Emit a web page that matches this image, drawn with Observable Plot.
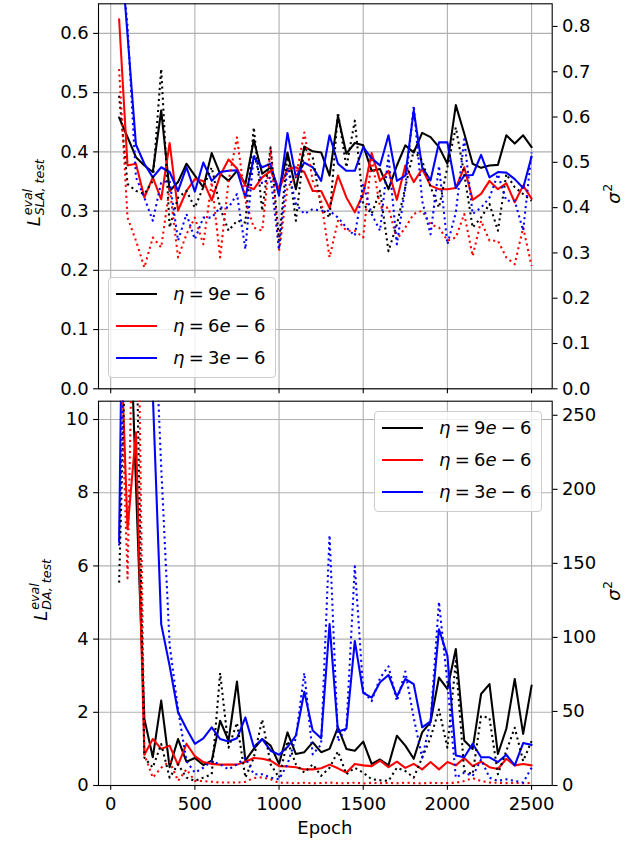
<!DOCTYPE html>
<html>
<head>
<meta charset="utf-8">
<script src="https://cdn.jsdelivr.net/npm/d3@7"></script>
<script src="https://cdn.jsdelivr.net/npm/@observablehq/plot@0.6"></script>
<style>
  body { margin: 0; background: white; }
  #root { position: relative; width: 640px; height: 841px; background: white; overflow: hidden; font-family: "DejaVu Sans", sans-serif; }
  #root svg { position: absolute; left: 0; top: 0; }
  .legend { position: absolute; box-sizing: border-box; width: 168px; height: 101px; border: 1px solid #cccccc; border-radius: 4px; background: rgba(255,255,255,0.8); }
  .legend .swatch { position: absolute; left: 7px; width: 41px; height: 2px; }
  .legend .lab { position: absolute; left: 64px; font-size: 18px; line-height: 22px; white-space: nowrap; word-spacing: -1.5px; color: black; }
</style>
</head>
<body>
<div id="root"></div>
<script>
const epochs = [50,100,150,200,250,300,350,400,450,500,550,600,650,700,750,800,850,900,950,1000,1050,1100,1150,1200,1250,1300,1350,1400,1450,1500,1550,1600,1650,1700,1750,1800,1850,1900,1950,2000,2050,2100,2150,2200,2250,2300,2350,2400,2450,2500];
const xTicks = [0,500,1000,1500,2000,2500];
const slaTicks = [0,0.1,0.2,0.3,0.4,0.5,0.6];
const slaVarTicks = [0,0.1,0.2,0.3,0.4,0.5,0.6,0.7,0.8];
const daTicks = [0,2,4,6,8,10];
const daVarTicks = [0,50,100,150,200,250];
const etaValues = ["9","6","3"];
const colors = ["black","red","blue"];

// top panel: SLA loss (left axis, solid) and sigma^2 (right axis, dotted)
const slaLoss9 = [0.458,0.425,0.391,0.377,0.366,0.470,0.334,0.349,0.380,0.360,0.340,0.398,0.363,0.351,0.368,0.346,0.420,0.363,0.374,0.334,0.399,0.337,0.409,0.401,0.399,0.360,0.460,0.397,0.415,0.411,0.368,0.371,0.337,0.377,0.411,0.399,0.432,0.425,0.408,0.380,0.479,0.431,0.380,0.373,0.377,0.378,0.428,0.414,0.428,0.408];
const slaLoss6 = [0.624,0.377,0.380,0.323,0.357,0.320,0.415,0.301,0.334,0.354,0.351,0.318,0.360,0.387,0.372,0.343,0.337,0.357,0.368,0.337,0.371,0.374,0.366,0.334,0.334,0.305,0.360,0.323,0.298,0.329,0.398,0.351,0.368,0.319,0.377,0.349,0.371,0.343,0.337,0.337,0.339,0.374,0.319,0.329,0.351,0.337,0.347,0.315,0.343,0.321];
const slaLoss3 = [0.78,0.597,0.412,0.380,0.357,0.374,0.366,0.334,0.374,0.333,0.382,0.351,0.366,0.368,0.369,0.323,0.391,0.374,0.380,0.326,0.432,0.357,0.382,0.374,0.351,0.428,0.380,0.368,0.368,0.408,0.389,0.377,0.428,0.351,0.360,0.470,0.374,0.352,0.416,0.416,0.339,0.360,0.361,0.395,0.357,0.366,0.365,0.354,0.339,0.392];
const slaVar9 = [0.647,0.452,0.437,0.430,0.459,0.706,0.356,0.422,0.437,0.400,0.445,0.489,0.400,0.349,0.371,0.367,0.577,0.393,0.533,0.327,0.518,0.371,0.533,0.511,0.400,0.378,0.610,0.489,0.592,0.408,0.386,0.437,0.304,0.363,0.445,0.526,0.504,0.445,0.400,0.489,0.577,0.474,0.356,0.378,0.408,0.349,0.474,0.445,0.430,0.415];
const slaVar6 = [0.706,0.378,0.327,0.268,0.334,0.312,0.445,0.290,0.341,0.378,0.319,0.456,0.290,0.459,0.555,0.415,0.356,0.349,0.529,0.304,0.445,0.467,0.566,0.459,0.415,0.290,0.371,0.349,0.349,0.334,0.511,0.400,0.400,0.330,0.356,0.386,0.393,0.363,0.356,0.327,0.334,0.386,0.293,0.371,0.327,0.327,0.290,0.275,0.356,0.271];
const slaVar3 = [1.0,0.80,0.467,0.422,0.371,0.456,0.459,0.327,0.386,0.330,0.378,0.378,0.400,0.400,0.430,0.308,0.518,0.452,0.467,0.308,0.489,0.408,0.386,0.397,0.393,0.393,0.378,0.356,0.338,0.452,0.386,0.349,0.515,0.319,0.445,0.625,0.415,0.341,0.492,0.319,0.389,0.551,0.386,0.400,0.422,0.474,0.415,0.415,0.349,0.522];

// bottom panel: DA loss (left axis, solid) and sigma^2 (right axis, dotted)
const daLoss9 = [14,15,8.2,1.82,0.77,2.32,0.50,1.27,0.65,0.75,0.56,0.68,1.77,1.23,2.84,0.68,1.00,1.27,1.09,0.59,1.45,0.86,0.91,1.18,0.91,1.00,1.59,1.00,0.95,1.20,0.59,0.71,0.55,1.36,1.09,0.73,1.45,1.73,2.95,2.64,3.73,1.23,1.00,2.50,2.77,0.86,1.55,2.91,1.41,2.73];
const daLoss6 = [13.6,7.0,9.65,0.84,1.27,1.00,1.09,0.56,1.14,0.80,0.64,0.59,0.57,0.57,0.57,0.65,0.75,0.73,0.68,0.53,0.52,0.50,0.44,0.44,0.47,0.57,0.47,0.35,0.59,0.55,0.53,0.68,0.50,0.65,0.48,0.59,0.44,0.64,0.44,0.64,0.55,0.75,0.53,0.65,0.50,0.45,0.73,0.55,0.59,0.55];
const daLoss3 = [6.65,25,20,14,10.7,4.41,3.27,2.0,1.55,1.14,1.29,1.59,1.27,1.20,1.29,1.86,1.05,1.27,0.95,0.84,1.05,1.36,2.56,1.50,1.29,4.41,1.47,1.55,3.95,2.53,2.40,2.82,3.02,2.43,2.91,2.77,1.59,1.75,4.27,3.55,0.82,0.77,1.14,0.77,0.77,0.64,0.84,0.55,1.16,1.11];
const daVar9 = [137,350,320,18.8,12.1,28,5.3,14.3,5.3,3.1,5.3,7.6,76,25.5,42.3,5.3,18.8,44.6,14.3,5.3,30,14.3,8.7,14.3,6.5,12,23,7.6,12,8.7,4.2,3.5,3.1,12,9.8,5.3,18.8,32.3,51.3,25.5,84,9.8,7.6,46.8,45.7,7.6,23.3,39,16.5,30];
const daVar6 = [320,140,440,21,5.3,12,16.5,3.1,10.9,3.1,3.0,2.5,2.0,2.0,2.0,2.5,5.0,5.5,4.2,1.8,1.8,1.5,1.9,1.4,1.7,2.0,1.5,1.6,1.9,1.4,1.8,1.6,1.7,1.5,1.9,1.6,1.4,1.8,1.6,1.7,1.8,3.0,5.0,3.0,2.0,1.8,1.6,1.8,1.5,1.7];
const daVar3 = [162,400,380,350,350,215,95,51.3,16.5,8.7,12,16.5,14.3,10.9,14.3,18.8,7.6,7.6,5.3,4.2,14.3,32.3,76,21,27.7,169,30,39,148,63.6,57,72.6,80.5,57,77,45.7,18.8,43.5,124,69,5.3,8.7,6.4,17.6,5.3,3.1,4.2,3.1,2,12];

const W = 640, H = 841;
const mL = 98, mR = W - 551.7;
const xDomain = [-72.5, 2622.5];
const TS = 4.86, LW = 2.08;
const root = document.getElementById("root");
const baseStyle = {fontFamily: "DejaVu Sans", fontSize: "18px", color: "black", background: "transparent", overflow: "visible"};

const ctx = document.createElement("canvas").getContext("2d");
function textWidth(str, size, italic) {
  ctx.font = `${italic ? "italic " : ""}${size}px "DejaVu Sans"`;
  return ctx.measureText(str).width;
}

function panel(cfg) {
  const left = Plot.plot({
    width: W, height: H,
    marginLeft: mL, marginRight: mR, marginTop: cfg.top, marginBottom: H - cfg.bottom,
    style: baseStyle,
    x: {domain: xDomain, axis: null},
    y: {domain: cfg.yDomain, axis: null},
    marks: [
      Plot.gridX(xTicks, {stroke: "#b0b0b0", strokeOpacity: 1, strokeWidth: 1.1}),
      Plot.gridY(cfg.yTicks, {stroke: "#b0b0b0", strokeOpacity: 1, strokeWidth: 1.1}),
      ...cfg.solid.map((vals, i) => Plot.lineY(vals, {x: epochs, stroke: colors[i], strokeWidth: LW, clip: true})),
      Plot.axisY(cfg.yTicks, {anchor: "left", tickSize: TS, tickPadding: TS, strokeWidth: 1.1, fontSize: 18, tickFormat: cfg.fmtL, label: null}),
      Plot.axisX(xTicks, {anchor: "bottom", tickSize: TS, tickPadding: 6.5, strokeWidth: 1.1, fontSize: 18, tickFormat: cfg.showX ? (d => String(d)) : (() => ""), label: null}),
      Plot.frame({stroke: "black", strokeWidth: 1.1})
    ]
  });
  root.appendChild(left);
  const right = Plot.plot({
    width: W, height: H,
    marginLeft: mL, marginRight: mR, marginTop: cfg.top, marginBottom: H - cfg.bottom,
    style: baseStyle,
    x: {domain: xDomain, axis: null},
    y: {domain: cfg.y2Domain, axis: null},
    marks: [
      ...cfg.dotted.map((vals, i) => Plot.lineY(vals, {x: epochs, stroke: colors[i], strokeWidth: LW, strokeDasharray: "2.08 3.44", strokeLinecap: "butt", clip: true})),
      Plot.axisY(cfg.y2Ticks, {anchor: "right", tickSize: TS, tickPadding: TS, strokeWidth: 1.1, fontSize: 18, tickFormat: cfg.fmtR, label: null})
    ]
  });
  root.appendChild(right);

  // left y label: L with superscript "eval" and subscript, rotated
  const cy = (cfg.top + cfg.bottom) / 2 - 3;
  const wL = textWidth("L", 18, true);
  const wSup = textWidth("eval", 12.6, true);
  const wSub = textWidth(cfg.sub, 12.6, true);
  const total = wL + 1 + Math.max(wSup, wSub);
  const x0 = -total / 2;
  const g = d3.select(left).append("g").attr("transform", `translate(${cfg.labelX},${cy}) rotate(-90)`)
    .attr("font-family", "DejaVu Sans").attr("fill", "black").attr("font-style", "italic").attr("text-anchor", "start");
  g.append("text").attr("text-anchor", "start").attr("x", x0).attr("y", 0).attr("font-size", 18).text("L");
  g.append("text").attr("text-anchor", "start").attr("x", x0 + wL + 1).attr("y", -8).attr("font-size", 12.6).text("eval");
  g.append("text").attr("text-anchor", "start").attr("x", x0 + wL + 1).attr("y", 4.2).attr("font-size", 12.6).text(cfg.sub);

  // right y label sigma^2
  const ws = textWidth("σ", 18, true);
  const w2 = textWidth("2", 12.6, false);
  const s0 = -(ws + 0.5 + w2) / 2;
  const g2 = d3.select(right).append("g").attr("transform", `translate(620,${cy + 1}) rotate(-90)`)
    .attr("font-family", "DejaVu Sans").attr("fill", "black").attr("text-anchor", "start");
  g2.append("text").attr("text-anchor", "start").attr("x", s0).attr("y", 0).attr("font-size", 18).attr("font-style", "italic").text("σ");
  g2.append("text").attr("text-anchor", "start").attr("x", s0 + ws + 0.5).attr("y", -8).attr("font-size", 12.6).text("2");

  if (cfg.showX) {
    d3.select(left).append("text").attr("x", (mL + 551.7) / 2).attr("y", 834).attr("text-anchor", "middle")
      .attr("font-family", "DejaVu Sans").attr("font-size", 18).attr("fill", "black").text("Epoch");
  }
}

panel({
  top: 3.3, bottom: 388.3, yDomain: [0, 0.65], y2Domain: [0, 0.85],
  yTicks: slaTicks, y2Ticks: slaVarTicks, fmtL: d => d.toFixed(1), fmtR: d => d.toFixed(1),
  solid: [slaLoss9, slaLoss6, slaLoss3], dotted: [slaVar9, slaVar6, slaVar3],
  sub: "SLA, test", labelX: 39.5, showX: false
});
panel({
  top: 400.7, bottom: 785, yDomain: [0, 10.5], y2Domain: [0, 259.5],
  yTicks: daTicks, y2Ticks: daVarTicks, fmtL: d => String(d), fmtR: d => String(d),
  solid: [daLoss9, daLoss6, daLoss3], dotted: [daVar9, daVar6, daVar3],
  sub: "DA, test", labelX: 46.5, showX: true
});

function legend(x, y) {
  const box = document.createElement("div");
  box.className = "legend";
  box.style.left = x + "px";
  box.style.top = y + "px";
  [16, 48, 80].forEach((rowY, i) => {
    const sw = document.createElement("div");
    sw.className = "swatch";
    sw.style.top = (rowY - 1) + "px";
    sw.style.background = colors[i];
    box.appendChild(sw);
    const lab = document.createElement("div");
    lab.className = "lab";
    lab.style.top = (rowY - 11) + "px";
    lab.innerHTML = `<i>η</i> = ${etaValues[i]}<i>e</i> − 6`;
    box.appendChild(lab);
  });
  root.appendChild(box);
}
legend(108, 277);
legend(374, 411);
</script>
</body>
</html>
